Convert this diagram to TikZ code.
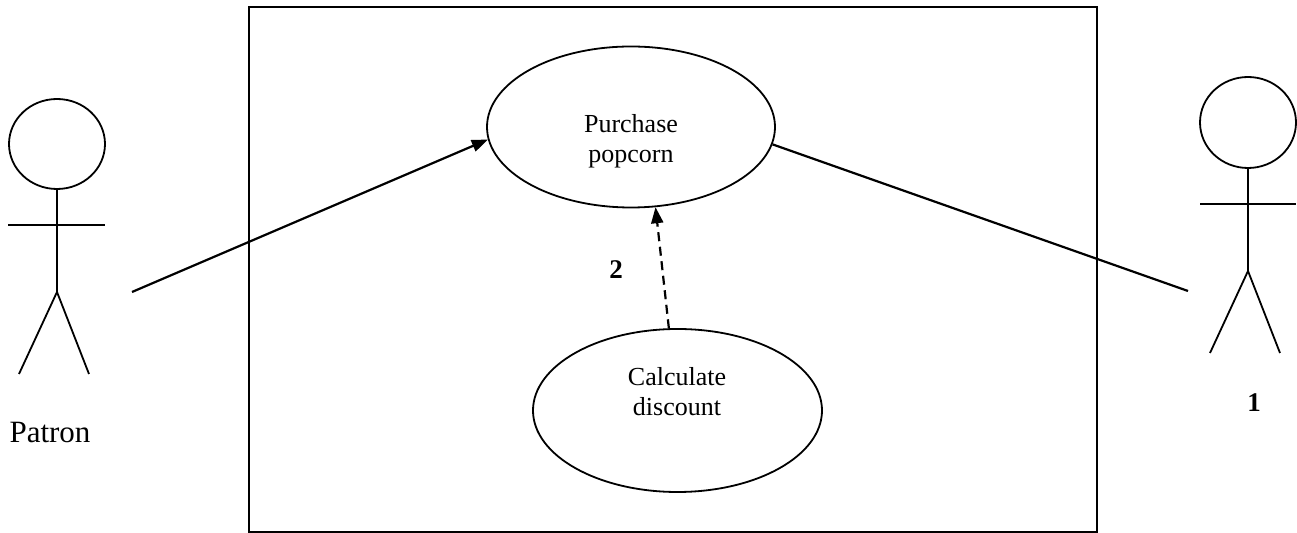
\documentclass[tikz,border=0pt]{standalone}
\usepackage{fontspec}
\setmainfont{Liberation Serif}
\usetikzlibrary{shapes.geometric,arrows.meta}
\tikzset{
  usecase/.style={draw, ellipse, line width=0.9pt, inner sep=0pt},
  txt/.style={align=center, inner sep=0pt, font=\fontsize{13}{15}\selectfont},
  num/.style={inner sep=0pt, font=\fontsize{13.5}{16}\selectfont\bfseries},
  stick/.style={line width=0.9pt},
  assoc/.style={line width=1.1pt},
  tip/.style={-{Triangle[length=8pt,width=6pt]}},
}
\begin{document}
\begin{tikzpicture}[x=0.5pt,y=-0.5pt]
\useasboundingbox (0,0) rectangle (1297,533);
% system boundary
\draw[line width=1.2pt] (249,7) rectangle (1097,532);
% use cases
\node[usecase, minimum width=144pt, minimum height=80.5pt] (pp) at (631,127) {};
\node[txt, anchor=base] (ppt) at (631,163) {Purchase\\popcorn};
\node[usecase, minimum width=144.5pt, minimum height=81.5pt] (cd) at (677.5,410.5) {};
\node[txt, anchor=base] (cdt) at (677,416) {Calculate\\discount};
% left actor (Patron)
\draw[stick] (57,144) ellipse [x radius=48, y radius=45];
\draw[stick] (57,189) -- (57,292);
\draw[stick] (8,225) -- (105,225);
\draw[stick] (19,374) -- (57,292) -- (89,374);
\node[anchor=base, inner sep=0pt, font=\fontsize{15.5}{18}\selectfont] (patron) at (50,443) {Patron};
% right actor
\draw[stick] (1248,122.5) ellipse [x radius=48, y radius=45.5];
\draw[stick] (1248,168) -- (1248,271);
\draw[stick] (1200,204) -- (1296,204);
\draw[stick] (1210,353) -- (1248,271) -- (1280,353);
\node[num, anchor=base] (one) at (1254,412) {1};
% connectors
\coordinate (patronend) at (132,292);
\coordinate (rightend) at (1188,291);
\draw[assoc, tip] (patronend) -- (pp.185);
\draw[assoc] (pp.353) -- (rightend);
\draw[assoc, tip, dash pattern=on 4.5pt off 2.8pt] (cd.96) -- (pp.287);
\node[num, anchor=base] (two) at (616,279) {2};
\end{tikzpicture}
\end{document}
